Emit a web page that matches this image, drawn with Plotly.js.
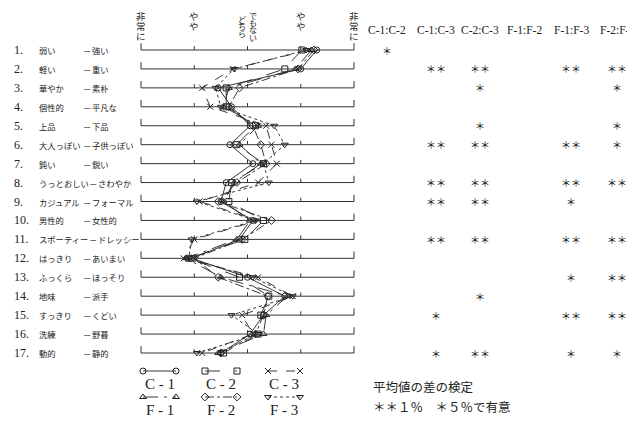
<!DOCTYPE html>
<html><head><meta charset="utf-8">
<script src="https://cdn.plot.ly/plotly-3.0.1.min.js"></script>
<style>html,body{margin:0;padding:0;background:#fff}#chart{width:627px;height:422px}</style>
</head><body><div id="chart"></div>
<script>
// ---- data ----
const rowNumbers = [1,2,3,4,5,6,7,8,9,10,11,12,13,14,15,16,17];
const leftWords = ['弱い','軽い','華やか','個性的','上品','大人っぽい','鈍い','うっとおしい','カジュアル','男性的','スポーティー','はっきり','ふっくら','地味','すっきり','洗練','動的'];
const rightWords = ['強い','重い','素朴','平凡な','下品','子供っぽい','鋭い','さわやか','フォーマル','女性的','ドレッシー','あいまい','ほっそり','派手','くどい','野暮','静的'];
const scaleLabels = ['非常に','やや','どちら|でもない','やや','非常に'];
const scaleValues = [1,2,3,4,5];
const seriesNames = ['C - 1','C - 2','C - 3','F - 1','F - 2','F - 3'];
const c1 = [4.30,4.00,2.45,2.70,3.05,2.67,3.10,2.60,2.50,3.10,2.85,1.95,3.00,3.70,3.30,3.05,2.50];
const c2 = [4.02,3.70,2.60,2.60,3.15,2.80,3.30,2.70,2.65,3.30,2.95,1.90,2.85,3.40,3.25,3.20,2.55];
const c3 = [4.15,2.72,2.15,2.30,3.35,3.45,3.55,3.20,2.10,3.20,2.00,1.80,3.20,3.85,2.90,3.10,2.15];
const f1 = [4.20,3.90,2.65,2.55,3.20,2.85,3.25,2.75,2.55,3.05,2.80,1.85,2.50,3.75,3.35,3.30,2.45];
const f2 = [4.25,3.95,2.85,2.65,3.10,3.25,3.35,2.80,2.45,3.45,2.90,2.00,2.45,3.38,3.30,3.15,2.50];
const f3 = [4.10,2.75,2.40,2.50,3.50,3.70,3.30,3.40,2.05,3.15,1.95,1.90,3.10,3.85,2.70,3.20,2.05];
const testColumns = ['C-1:C-2','C-1:C-3','C-2:C-3','F-1:F-2','F-1:F-3','F-2:F-3'];
const sigC1C2 = ['*','','','','','','','','','','','','','','','',''];
const sigC1C3 = ['','**','','','','**','','**','**','','**','','','','*','','*'];
const sigC2C3 = ['','**','*','','*','**','','**','**','','**','','','*','','','**'];
const sigF1F2 = ['','','','','','','','','','','','','','','','',''];
const sigF1F3 = ['','**','','','','**','','**','*','','**','','*','','**','','*'];
const sigF2F3 = ['','**','*','','*','*','','**','','','**','','**','','**','','*'];
const noteLines = ['平均値の差の検定','＊＊１％　＊５％で有意'];

// ---- layout ----
const W=627,H=422;
const X1px=141,X5px=354,R1px=50,R17px=353;
const ux=(X5px-X1px)/4, uy=(R17px-R1px)/16;
const xr=[1-X1px/ux, 1+(W-X1px)/ux];
const yr=[1+(H-R1px)/uy, 1-R1px/uy];
const ink='#222';
const styles=[
 {sym:'circle-open',dash:'solid',data:c1},
 {sym:'square-open',dash:'longdash',data:c2},
 {sym:'x-thin-open',dash:'dash',data:c3},
 {sym:'triangle-up-open',dash:'longdashdot',data:f1},
 {sym:'diamond-open',dash:'dashdot',data:f2},
 {sym:'triangle-down-open',dash:'dot',data:f3}
];
const traces=styles.map((s,i)=>({
 type:'scatter',mode:'lines+markers',x:s.data,y:rowNumbers,name:seriesNames[i],
 line:{color:ink,width:0.9,dash:s.dash},
 marker:{symbol:s.sym,size:6,color:ink,line:{color:ink,width:1}},
 showlegend:false,xaxis:'x',yaxis:'y',hoverinfo:'skip'
}));
// legend keys in pixel axes
const legCols=[[143,176],[205,237],[268,300]];
const legRows=[371,397];
styles.forEach((s,i)=>{
 const c=legCols[i%3], r=legRows[Math.floor(i/3)];
 traces.push({type:'scatter',mode:'lines+markers',x:[c[0],c[1]],y:[r,r],
  line:{color:ink,width:0.9,dash:s.dash},marker:{symbol:s.sym,size:6,color:ink,line:{color:ink,width:1}},
  showlegend:false,xaxis:'x2',yaxis:'y2',hoverinfo:'skip'});
});

const shapes=[];
rowNumbers.forEach(r=>{
 shapes.push({type:'line',xref:'x',yref:'y',x0:scaleValues[0],x1:scaleValues[4],y0:r,y1:r,line:{color:'#333',width:1}});
 scaleValues.forEach((v,k)=>{
  const h=(k===0||k===4)?0.36:0.2;
  shapes.push({type:'line',xref:'x',yref:'y',x0:v,x1:v,y0:r,y1:r-h,line:{color:'#333',width:1}});
 });
});

const ann=[];
const jp='Noto Sans CJK JP';
const serif='Liberation Serif';
const lfs=8.3;
rowNumbers.forEach((r,i)=>{
 ann.push({xref:'x2',yref:'y',x:12,y:r,text:r+'.',showarrow:false,xanchor:'left',yanchor:'middle',font:{family:serif,size:12,color:ink}});
 ann.push({xref:'x2',yref:'y',x:37,y:r,text:leftWords[i],showarrow:false,xanchor:'left',yanchor:'middle',font:{family:jp,size:lfs,color:ink}});
 const dx=Math.max(81, 37+leftWords[i].length*lfs+0.5);
 ann.push({xref:'x2',yref:'y',x:dx,y:r,text:'－',showarrow:false,xanchor:'left',yanchor:'middle',font:{family:jp,size:lfs,color:ink}});
 ann.push({xref:'x2',yref:'y',x:dx+lfs+0.5,y:r,text:rightWords[i],showarrow:false,xanchor:'left',yanchor:'middle',font:{family:jp,size:lfs,color:ink}});
});
// scale headers (vertical, one character per annotation)
function vtext(str,k,xshift,top,step,size){
 str.split('').forEach((ch,n)=>{
  ann.push({xref:'x',yref:'y2',x:scaleValues[k],xshift:xshift,y:top+n*step,text:ch,showarrow:false,
   xanchor:'center',yanchor:'middle',borderpad:0,font:{family:jp,size:size,color:ink}});
 });
}
scaleLabels.forEach((lab,k)=>{
 const parts=lab.split('|');
 if(parts.length===1){ vtext(parts[0],k,0,16,10,9.5); }
 else { vtext(parts[0],k,-6,19.5,7.2,8); vtext(parts[1],k,5,15.5,7.2,8); }
});
// test columns
const colX=[387,436,480,524,571,617];
const sigs=[sigC1C2,sigC1C3,sigC2C3,sigF1F2,sigF1F3,sigF2F3];
testColumns.forEach((t,j)=>{
 ann.push({xref:'x2',yref:'y2',x:colX[j],y:30,text:t,showarrow:false,xanchor:'center',yanchor:'middle',font:{family:serif,size:11.5,color:ink}});
 sigs[j].forEach((s,i)=>{
  if(s) ann.push({xref:'x2',yref:'y',x:colX[j],y:rowNumbers[i],text:s.replace(/\*/g,'＊'),showarrow:false,xanchor:'center',yanchor:'middle',font:{family:jp,size:10,color:'#111'}});
 });
});
// legend labels
seriesNames.forEach((n,i)=>{
 const c=legCols[i%3], r=legRows[Math.floor(i/3)];
 ann.push({xref:'x2',yref:'y2',x:(c[0]+c[1])/2,y:r+13,text:n,showarrow:false,xanchor:'center',yanchor:'middle',font:{family:serif,size:15,color:ink}});
});
noteLines.forEach((t,i)=>{
 ann.push({xref:'x2',yref:'y2',x:371,y:386+i*20,text:t,showarrow:false,xanchor:'left',yanchor:'middle',font:{family:jp,size:12.5,color:ink}});
});

const layout={
 width:W,height:H,margin:{l:0,r:0,t:0,b:0},paper_bgcolor:'#fff',plot_bgcolor:'rgba(0,0,0,0)',
 xaxis:{range:xr,visible:false,fixedrange:true},
 yaxis:{range:yr,visible:false,fixedrange:true},
 xaxis2:{range:[0,W],visible:false,overlaying:'x'},
 yaxis2:{range:[H,0],visible:false,overlaying:'y'},
 shapes:shapes,annotations:ann,showlegend:false
};
Plotly.newPlot('chart',traces,layout,{staticPlot:true});
</script></body></html>
